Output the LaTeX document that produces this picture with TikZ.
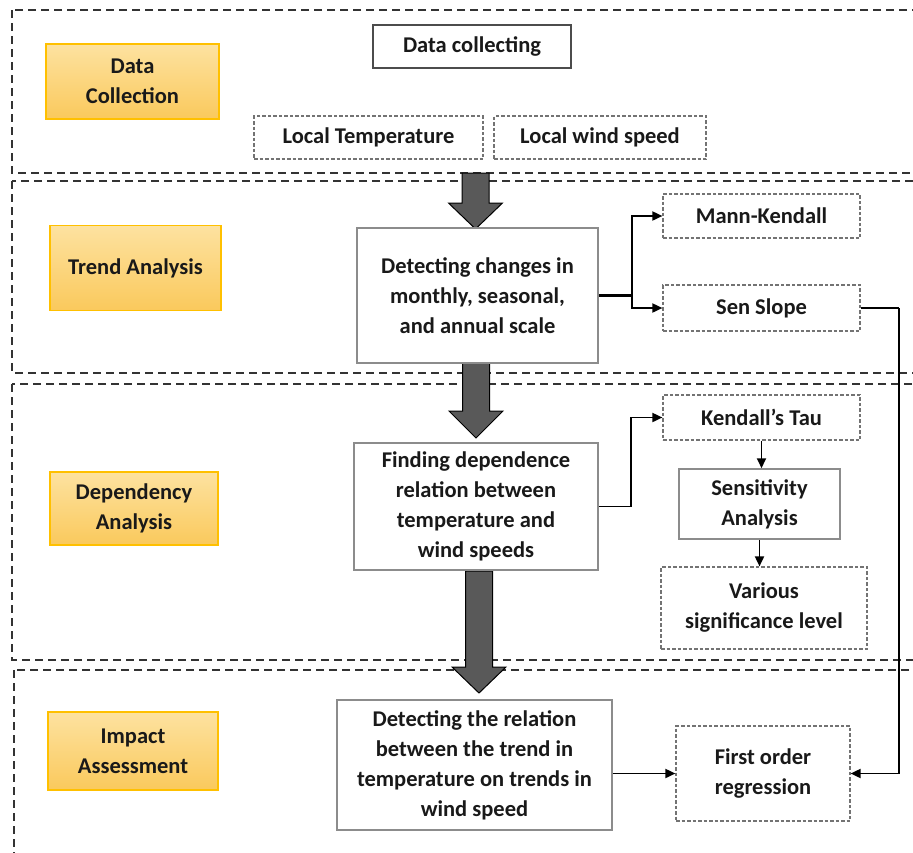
\documentclass[tikz,border=0pt]{standalone}
\usepackage{fontspec}
\setmainfont{Carlito}
\usetikzlibrary{arrows.meta}
\definecolor{lblfill1}{RGB}{253,226,160}
\definecolor{lblfill2}{RGB}{250,201,92}
\definecolor{lbldraw}{RGB}{255,192,0}
\definecolor{arrowgray}{RGB}{89,89,89}
\newcommand{\bigdown}[4]{%
  \filldraw[bigarrow] ({#1-13.5},#2) -- ({#1+13.5},#2) -- ({#1+13.5},#3) -- ({#1+27},#3) -- (#1,#4) -- ({#1-27},#3) -- ({#1-13.5},#3) -- cycle;}
\begin{document}
\begin{tikzpicture}[x=1pt,y=-1pt,
  every node/.style={font=\fontsize{22.5}{30}\selectfont\bfseries, text=black!90, align=center, inner sep=0pt},
  section/.style={draw=black!80, line width=2pt, dash pattern=on 8pt off 5pt},
  lbl/.style={draw=lbldraw, line width=1.5pt, top color=lblfill1, bottom color=lblfill2},
  dbox/.style={draw=black!55, line width=1.2pt, dash pattern=on 3.5pt off 2pt, fill=white},
  sbox/.style={draw=black!45, line width=1.5pt, fill=white},
  conn/.style={draw=black, line width=1.8pt},
  arr/.style={conn, -{Triangle[length=10pt,width=9pt]}},
  bigarrow/.style={fill=arrowgray, draw=black, line width=1pt, line join=miter}
]
\useasboundingbox (0,0) rectangle (913,852);
\clip (0,0) rectangle (913,852);

% sections
\draw[section] (12,10) rectangle (940,173);
\draw[section] (12,181) rectangle (940,373);
\draw[section] (12,384) rectangle (940,660);
\draw[section] (14,670) rectangle (940,900);

% big arrows
\bigdown{475.5}{173}{203}{229}
\bigdown{476}{363}{411}{438}
\bigdown{479}{571}{667}{693}

% labels
\node[lbl, minimum width=173pt, minimum height=75pt] (l1) at (132.5,81.5) {Data\\Collection};
\node[lbl, minimum width=171pt, minimum height=85pt] (l2) at (135.5,268) {Trend Analysis};
\node[lbl, minimum width=168pt, minimum height=73pt] (l3) at (134,508.5) {Dependency\\Analysis};
\node[lbl, minimum width=170pt, minimum height=78pt] (l4) at (133,751) {Impact\\Assessment};

% data collection
\node[sbox, draw=black!70, line width=2pt, minimum width=198pt, minimum height=43pt] (dc) at (472,46.5) {Data collecting};
\node[dbox, minimum width=229pt, minimum height=43pt] (lt) at (368.5,137.5) {Local Temperature};
\node[dbox, minimum width=212pt, minimum height=43pt] (lw) at (600,137.5) {Local wind speed};

% main column
\node[sbox, minimum width=241pt, minimum height=135pt] (tb) at (477.5,295.5) {Detecting changes in\\monthly, seasonal,\\and annual scale};
\node[sbox, minimum width=244pt, minimum height=127pt] (db) at (476,506.5) {Finding dependence\\relation between\\temperature and\\wind speeds};
\node[sbox, minimum width=275pt, minimum height=130pt] (ib) at (474.5,765) {Detecting the relation\\between the trend in\\temperature on trends in\\wind speed};

% right column
\node[dbox, minimum width=197pt, minimum height=44pt] (mk) at (761.5,216) {Mann-Kendall};
\node[dbox, minimum width=197pt, minimum height=46pt] (ss) at (761.5,308) {Sen Slope};
\node[dbox, minimum width=197pt, minimum height=45pt] (kt) at (761.5,417.5) {Kendall’s Tau};
\node[sbox, minimum width=161pt, minimum height=70pt] (sa) at (759.5,504) {Sensitivity\\Analysis};
\node[dbox, minimum width=206pt, minimum height=82pt] (vs) at (764,608) {Various\\significance level};
\node[dbox, minimum width=174pt, minimum height=95pt] (fo) at (763,773.5) {First order\\regression};

% connectors
\draw[conn, line width=3pt] (tb.east) -- ++(33,0) coordinate (j);
\draw[arr] (j) |- (mk.west);
\draw[arr] (j) |- (ss.west);
\draw[conn] (db.east) -- ++(32,0) coordinate (k);
\draw[arr] (k) |- (kt.west);
\draw[arr] (kt.south) -- (kt.south |- sa.north);
\draw[arr] (sa.south) -- (sa.south |- vs.north);
\draw[conn] (ss.east) -- ++(38,0) coordinate (r);
\draw[arr] (r) |- (fo.east);
\draw[arr] (fo.west -| ib.east) -- (fo.west);
\end{tikzpicture}
\end{document}
